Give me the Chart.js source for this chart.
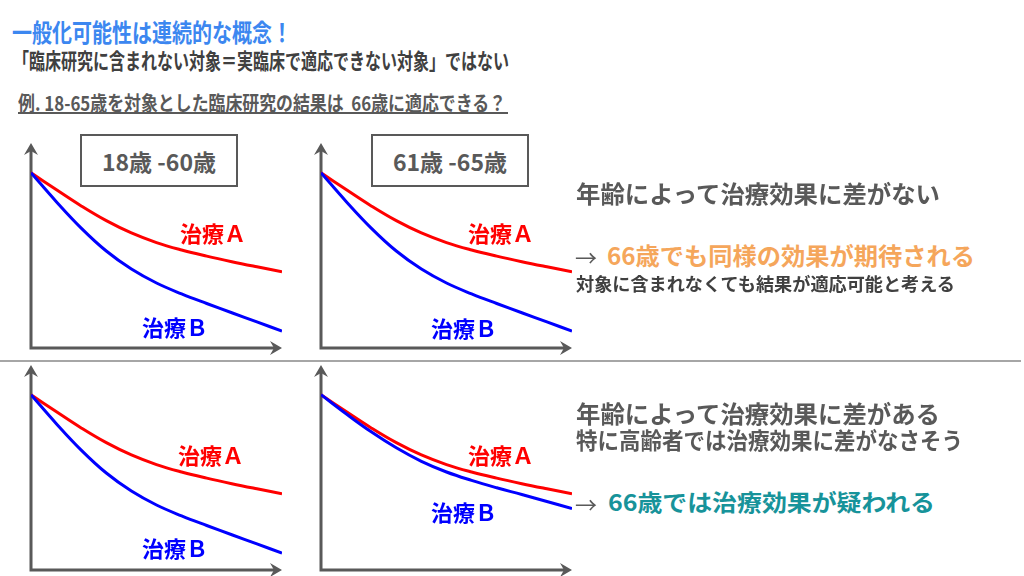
<!DOCTYPE html>
<html lang="ja">
<head>
<meta charset="utf-8">
<script src="https://cdn.jsdelivr.net/npm/chart.js@4/dist/chart.umd.min.js"></script>
<style>
  html, body { margin: 0; padding: 0; background: #fff; }
  body { width: 1024px; height: 576px; position: relative; overflow: hidden;
         font-family: "Noto Sans CJK JP", "Noto Sans", sans-serif; font-weight: 700; }
  .t { position: absolute; white-space: nowrap; line-height: 1; display: inline-block; transform-origin: 0 0; }
  canvas { position: absolute; }
  .box { position: absolute; border: 2.5px solid #595959; box-sizing: border-box; color: #595959;
         display: flex; align-items: center; justify-content: center; font-size: 23px; }
  .lab { position: absolute; font-size: 22px; line-height: 1; white-space: nowrap; }
  .red { color: #ff0000; }
  .blue { color: #0000ff; }
</style>
</head>
<body>

<div class="t" style="left:12px;top:19px;font-size:25px;color:#3c87f0" data-w="280">一般化可能性は連続的な概念！</div>
<div class="t" style="left:13px;top:48px;font-size:22px;color:#404040" data-w="496">「臨床研究に含まれない対象＝実臨床で適応できない対象」ではない</div>
<div class="t" style="left:18px;top:93px;font-size:20px;color:#595959" data-w="488">例. 18-65歳を対象とした臨床研究の結果は&nbsp;&nbsp;66歳に適応できる？</div>
<div style="position:absolute;left:18px;top:112px;width:490px;height:2px;background:#595959"></div>

<div class="box" style="left:80px;top:134px;width:158px;height:53px">18歳 -60歳</div>
<div class="box" style="left:371px;top:134px;width:158px;height:53px">61歳 -65歳</div>

<canvas id="c1" width="275" height="229" style="left:19px;top:131px"></canvas>
<canvas id="c2" width="275" height="229" style="left:309px;top:131px"></canvas>
<canvas id="c3" width="275" height="229" style="left:19px;top:353px"></canvas>
<canvas id="c4" width="275" height="229" style="left:309px;top:353px"></canvas>

<div class="lab red" style="left:180px;top:221px">治療Ａ</div>
<div class="lab blue" style="left:142px;top:315px">治療Ｂ</div>
<div class="lab red" style="left:468px;top:221px">治療Ａ</div>
<div class="lab blue" style="left:431px;top:316px">治療Ｂ</div>
<div class="lab red" style="left:178px;top:443px">治療Ａ</div>
<div class="lab blue" style="left:142px;top:536px">治療Ｂ</div>
<div class="lab red" style="left:468px;top:443px">治療Ａ</div>
<div class="lab blue" style="left:431px;top:500px">治療Ｂ</div>

<div style="position:absolute;left:0;top:360px;width:1021px;height:2px;background:#a6a6a6"></div>

<div class="t" style="left:576px;top:181px;font-size:24px;color:#595959" data-w="364">年齢によって治療効果に差がない</div>
<div class="t" style="left:575px;top:245px;font-size:22px;color:#595959;font-weight:400">→</div>
<div class="t" style="left:607px;top:243px;font-size:24px;color:#f5a65b" data-w="368">66歳でも同様の効果が期待される</div>
<div class="t" style="left:576px;top:274px;font-size:18px;color:#404040" data-w="379">対象に含まれなくても結果が適応可能と考える</div>

<div class="t" style="left:576px;top:401px;font-size:24px;color:#595959" data-w="364">年齢によって治療効果に差がある</div>
<div class="t" style="left:576px;top:428px;font-size:23px;color:#595959" data-w="387">特に高齢者では治療効果に差がなさそう</div>
<div class="t" style="left:575px;top:492px;font-size:22px;color:#595959;font-weight:400">→</div>
<div class="t" style="left:608px;top:490px;font-size:23px;color:#17939a" data-w="327">66歳では治療効果が疑われる</div>

<script>
// 曲線データ（x: 時間, y: 効果）
const xs = [0, 1, 2, 3, 4, 5, 6, 7, 8, 9, 10];
const treatA = [8.55, 7.73, 6.93, 6.21, 5.61, 5.14, 4.78, 4.48, 4.21, 3.96, 3.72];
const treatB = [8.55, 7.15, 5.85, 4.73, 3.85, 3.17, 2.64, 2.17, 1.72, 1.27, 0.83];
const treatB_old = [8.55, 7.62, 6.74, 5.96, 5.3, 4.78, 4.37, 4.01, 3.68, 3.34, 3.0];   // 下段右: 高齢者でAとBが近い

const AXIS_MIN = 0;
const AXIS_MAX = 10;

// 軸を矢印で描く
const axisArrows = {
    id: 'axisArrows',
    beforeDatasetsDraw(chart) {
        const ctx = chart.ctx;
        const sx = chart.scales.x, sy = chart.scales.y;
        const x0 = sx.getPixelForValue(AXIS_MIN), y0 = sy.getPixelForValue(AXIS_MIN);
        const x1 = sx.getPixelForValue(AXIS_MAX), y1 = sy.getPixelForValue(AXIS_MAX);
        ctx.save();
        ctx.strokeStyle = '#595959';
        ctx.fillStyle = '#595959';
        ctx.lineWidth = 3;
        ctx.beginPath();
        ctx.moveTo(x0, y1 + 8);
        ctx.lineTo(x0, y0);
        ctx.lineTo(x1 - 8, y0);
        ctx.stroke();
        // 右向き
        ctx.beginPath();
        ctx.moveTo(x1, y0);
        ctx.lineTo(x1 - 12, y0 - 7);
        ctx.lineTo(x1 - 8, y0);
        ctx.lineTo(x1 - 12, y0 + 7);
        ctx.closePath();
        ctx.fill();
        // 上向き
        ctx.beginPath();
        ctx.moveTo(x0, y1);
        ctx.lineTo(x0 - 7, y1 + 12);
        ctx.lineTo(x0, y1 + 8);
        ctx.lineTo(x0 + 7, y1 + 12);
        ctx.closePath();
        ctx.fill();
        ctx.restore();
    }
};

function toPoints(vals) {
    return xs.map((x, i) => ({ x: x, y: vals[i] }));
}

function makeChart(id, bVals) {
    return new Chart(document.getElementById(id), {
        type: 'line',
        data: {
            datasets: [
                { label: '治療B', data: toPoints(bVals), borderColor: '#0000ff' },
                { label: '治療A', data: toPoints(treatA), borderColor: '#ff0000' }
            ]
        },
        options: {
            responsive: false,
            animation: false,
            events: [],
            devicePixelRatio: 1,
            layout: { padding: 12 },
            elements: {
                point: { radius: 0 },
                line: { borderWidth: 3, tension: 0.4, fill: false }
            },
            plugins: { legend: { display: false }, tooltip: { enabled: false } },
            scales: {
                x: { type: 'linear', min: AXIS_MIN, max: AXIS_MAX, display: false },
                y: { min: AXIS_MIN, max: AXIS_MAX, display: false }
            }
        },
        plugins: [axisArrows]
    });
}

makeChart('c1', treatB);
makeChart('c2', treatB);
makeChart('c3', treatB);
makeChart('c4', treatB_old);

// 文字幅を元画像に合わせる
function fitText() {
    document.querySelectorAll('[data-w]').forEach(el => {
        el.style.transform = 'none';
        const w = el.getBoundingClientRect().width;
        const target = parseFloat(el.dataset.w);
        if (w > 0) el.style.transform = `scaleX(${target / w})`;
    });
}
fitText();
document.fonts.ready.then(fitText);
</script>
</body>
</html>
